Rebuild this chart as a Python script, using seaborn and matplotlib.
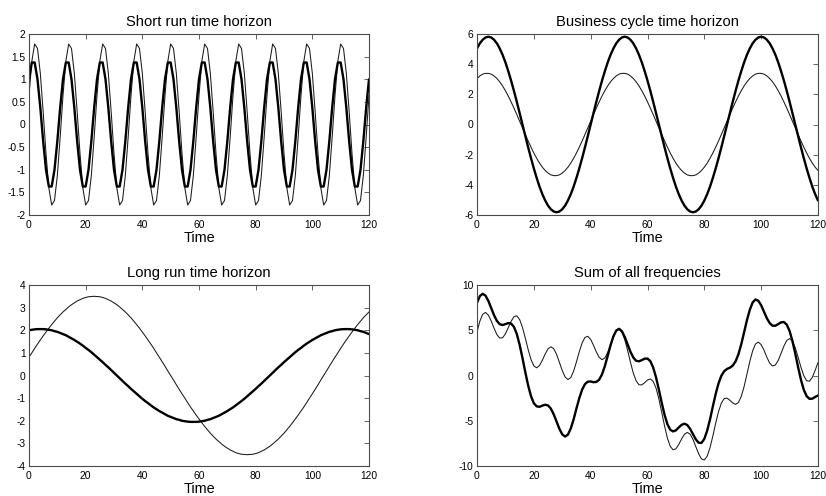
import matplotlib
matplotlib.use("Agg")
import matplotlib.pyplot as plt
from matplotlib.ticker import FuncFormatter
import numpy as np
import pandas as pd
import seaborn as sns

# ---------------- data ----------------
time = list(range(121))

short_thick = [
    1.00, 1.37, 1.37, 1.00, 0.37, -0.37, -1.00, -1.37, -1.37, -1.00, -0.37, 0.37,
    1.00, 1.37, 1.37, 1.00, 0.37, -0.37, -1.00, -1.37, -1.37, -1.00, -0.37, 0.37,
    1.00, 1.37, 1.37, 1.00, 0.37, -0.37, -1.00, -1.37, -1.37, -1.00, -0.37, 0.37,
    1.00, 1.37, 1.37, 1.00, 0.37, -0.37, -1.00, -1.37, -1.37, -1.00, -0.37, 0.37,
    1.00, 1.37, 1.37, 1.00, 0.37, -0.37, -1.00, -1.37, -1.37, -1.00, -0.37, 0.37,
    1.00, 1.37, 1.37, 1.00, 0.37, -0.37, -1.00, -1.37, -1.37, -1.00, -0.37, 0.37,
    1.00, 1.37, 1.37, 1.00, 0.37, -0.37, -1.00, -1.37, -1.37, -1.00, -0.37, 0.37,
    1.00, 1.37, 1.37, 1.00, 0.37, -0.37, -1.00, -1.37, -1.37, -1.00, -0.37, 0.37,
    1.00, 1.37, 1.37, 1.00, 0.37, -0.37, -1.00, -1.37, -1.37, -1.00, -0.37, 0.37,
    1.00, 1.37, 1.37, 1.00, 0.37, -0.37, -1.00, -1.37, -1.37, -1.00, -0.37, 0.37,
    1.00,
]

short_thin = [
    0.64, 1.40, 1.78, 1.68, 1.13, 0.28, -0.64, -1.40, -1.78, -1.68, -1.13, -0.28,
    0.64, 1.40, 1.78, 1.68, 1.13, 0.28, -0.64, -1.40, -1.78, -1.68, -1.13, -0.28,
    0.64, 1.40, 1.78, 1.68, 1.13, 0.28, -0.64, -1.40, -1.78, -1.68, -1.13, -0.28,
    0.64, 1.40, 1.78, 1.68, 1.13, 0.28, -0.64, -1.40, -1.78, -1.68, -1.13, -0.28,
    0.64, 1.40, 1.78, 1.68, 1.13, 0.28, -0.64, -1.40, -1.78, -1.68, -1.13, -0.28,
    0.64, 1.40, 1.78, 1.68, 1.13, 0.28, -0.64, -1.40, -1.78, -1.68, -1.13, -0.28,
    0.64, 1.40, 1.78, 1.68, 1.13, 0.28, -0.64, -1.40, -1.78, -1.68, -1.13, -0.28,
    0.64, 1.40, 1.78, 1.68, 1.13, 0.28, -0.64, -1.40, -1.78, -1.68, -1.13, -0.28,
    0.64, 1.40, 1.78, 1.68, 1.13, 0.28, -0.64, -1.40, -1.78, -1.68, -1.13, -0.28,
    0.64, 1.40, 1.78, 1.68, 1.13, 0.28, -0.64, -1.40, -1.78, -1.68, -1.13, -0.28,
    0.64,
]

business_thick = [
    5.04, 5.38, 5.62, 5.77, 5.82, 5.77, 5.62, 5.38, 5.04, 4.62, 4.12, 3.54,
    2.91, 2.23, 1.51, 0.76, 0.00, -0.76, -1.51, -2.23, -2.91, -3.54, -4.12, -4.62,
    -5.04, -5.38, -5.62, -5.77, -5.82, -5.77, -5.62, -5.38, -5.04, -4.62, -4.12, -3.54,
    -2.91, -2.23, -1.51, -0.76, 0.00, 0.76, 1.51, 2.23, 2.91, 3.54, 4.12, 4.62,
    5.04, 5.38, 5.62, 5.77, 5.82, 5.77, 5.62, 5.38, 5.04, 4.62, 4.12, 3.54,
    2.91, 2.23, 1.51, 0.76, 0.00, -0.76, -1.51, -2.23, -2.91, -3.54, -4.12, -4.62,
    -5.04, -5.38, -5.62, -5.77, -5.82, -5.77, -5.62, -5.38, -5.04, -4.62, -4.12, -3.54,
    -2.91, -2.23, -1.51, -0.76, 0.00, 0.76, 1.51, 2.23, 2.91, 3.54, 4.12, 4.62,
    5.04, 5.38, 5.62, 5.77, 5.82, 5.77, 5.62, 5.38, 5.04, 4.62, 4.12, 3.54,
    2.91, 2.23, 1.51, 0.76, 0.00, -0.76, -1.51, -2.23, -2.91, -3.54, -4.12, -4.62,
    -5.04,
]

business_thin = [
    3.05, 3.22, 3.34, 3.39, 3.39, 3.34, 3.22, 3.05, 2.83, 2.56, 2.24, 1.89,
    1.50, 1.09, 0.66, 0.22, -0.22, -0.66, -1.09, -1.50, -1.89, -2.24, -2.56, -2.83,
    -3.05, -3.22, -3.34, -3.39, -3.39, -3.34, -3.22, -3.05, -2.83, -2.56, -2.24, -1.89,
    -1.50, -1.09, -0.66, -0.22, 0.22, 0.66, 1.09, 1.50, 1.89, 2.24, 2.56, 2.83,
    3.05, 3.22, 3.34, 3.39, 3.39, 3.34, 3.22, 3.05, 2.83, 2.56, 2.24, 1.89,
    1.50, 1.09, 0.66, 0.22, -0.22, -0.66, -1.09, -1.50, -1.89, -2.24, -2.56, -2.83,
    -3.05, -3.22, -3.34, -3.39, -3.39, -3.34, -3.22, -3.05, -2.83, -2.56, -2.24, -1.89,
    -1.50, -1.09, -0.66, -0.22, 0.22, 0.66, 1.09, 1.50, 1.89, 2.24, 2.56, 2.83,
    3.05, 3.22, 3.34, 3.39, 3.39, 3.34, 3.22, 3.05, 2.83, 2.56, 2.24, 1.89,
    1.50, 1.09, 0.66, 0.22, -0.22, -0.66, -1.09, -1.50, -1.89, -2.24, -2.56, -2.83,
    -3.05,
]

long_thick = [
    2.00, 2.02, 2.04, 2.05, 2.05, 2.05, 2.04, 2.02, 2.00, 1.96,
    1.93, 1.88, 1.83, 1.78, 1.71, 1.64, 1.57, 1.49, 1.41, 1.32,
    1.22, 1.13, 1.03, 0.92, 0.81, 0.70, 0.59, 0.47, 0.36, 0.24,
    0.12, 0.00, -0.12, -0.24, -0.36, -0.47, -0.59, -0.70, -0.81, -0.92,
    -1.03, -1.13, -1.22, -1.32, -1.41, -1.49, -1.57, -1.64, -1.71, -1.78,
    -1.83, -1.88, -1.93, -1.96, -2.00, -2.02, -2.04, -2.05, -2.05, -2.05,
    -2.04, -2.02, -2.00, -1.96, -1.93, -1.88, -1.83, -1.78, -1.71, -1.64,
    -1.57, -1.49, -1.41, -1.32, -1.22, -1.13, -1.03, -0.92, -0.81, -0.70,
    -0.59, -0.47, -0.36, -0.24, -0.12, 0.00, 0.12, 0.24, 0.36, 0.47,
    0.59, 0.70, 0.81, 0.92, 1.03, 1.13, 1.22, 1.32, 1.41, 1.49,
    1.57, 1.64, 1.71, 1.78, 1.83, 1.88, 1.93, 1.96, 2.00, 2.02,
    2.04, 2.05, 2.05, 2.05, 2.04, 2.02, 2.00, 1.96, 1.93, 1.88,
    1.83,
]

long_thin = [
    0.81, 1.00, 1.20, 1.39, 1.57, 1.75, 1.92, 2.09, 2.25, 2.40,
    2.55, 2.68, 2.81, 2.92, 3.03, 3.13, 3.21, 3.29, 3.35, 3.41,
    3.45, 3.48, 3.49, 3.50, 3.49, 3.48, 3.45, 3.41, 3.35, 3.29,
    3.21, 3.13, 3.03, 2.92, 2.81, 2.68, 2.55, 2.40, 2.25, 2.09,
    1.92, 1.75, 1.57, 1.39, 1.20, 1.00, 0.81, 0.61, 0.41, 0.20,
    0.00, -0.20, -0.41, -0.61, -0.81, -1.00, -1.20, -1.39, -1.57, -1.75,
    -1.92, -2.09, -2.25, -2.40, -2.55, -2.68, -2.81, -2.92, -3.03, -3.13,
    -3.21, -3.29, -3.35, -3.41, -3.45, -3.48, -3.49, -3.50, -3.49, -3.48,
    -3.45, -3.41, -3.35, -3.29, -3.21, -3.13, -3.03, -2.92, -2.81, -2.68,
    -2.55, -2.40, -2.25, -2.09, -1.92, -1.75, -1.57, -1.39, -1.20, -1.00,
    -0.81, -0.61, -0.41, -0.20, 0.00, 0.20, 0.41, 0.61, 0.81, 1.00,
    1.20, 1.39, 1.57, 1.75, 1.92, 2.09, 2.25, 2.40, 2.55, 2.68,
    2.81,
]

sum_thin = [
    4.80, 6.00, 6.76, 6.97, 6.67, 6.02, 5.22, 4.52, 4.14, 4.17,
    4.60, 5.29, 5.99, 6.50, 6.60, 6.19, 5.32, 4.13, 2.87, 1.77,
    1.06, 0.85, 1.10, 1.69, 2.38, 2.95, 3.17, 2.96, 2.34, 1.45,
    0.55, -0.16, -0.45, -0.23, 0.48, 1.51, 2.63, 3.60, 4.21, 4.33,
    3.99, 3.34, 2.60, 2.00, 1.75, 1.94, 2.54, 3.38, 4.25, 4.90,
    5.12, 4.79, 3.96, 2.79, 1.47, 0.27, -0.59, -1.02, -1.04, -0.79,
    -0.50, -0.38, -0.65, -1.39, -2.58, -4.06, -5.58, -6.91, -7.83, -8.21,
    -8.10, -7.62, -7.01, -6.49, -6.29, -6.48, -7.05, -7.86, -8.65, -9.22,
    -9.34, -8.91, -7.97, -6.68, -5.27, -3.98, -3.04, -2.55, -2.50, -2.74,
    -3.04, -3.19, -2.98, -2.31, -1.21, 0.15, 1.54, 2.72, 3.48, 3.69,
    3.41, 2.79, 2.02, 1.37, 1.05, 1.16, 1.67, 2.44, 3.25, 3.87,
    4.08, 3.80, 3.06, 2.02, 0.91, -0.03, -0.58, -0.63, -0.20, 0.57,
    1.44,
]

titles = ["Short run time horizon", "Business cycle time horizon",
          "Long run time horizon", "Sum of all frequencies"]
x_ticks = [0, 20, 40, 60, 80, 100, 120]
short_yticks = [-2, -1.5, -1, -0.5, 0, 0.5, 1, 1.5, 2]
business_yticks = [-6, -4, -2, 0, 2, 4, 6]
long_yticks = [-4, -3, -2, -1, 0, 1, 2, 3, 4]
sum_yticks = [-10, -5, 0, 5, 10]

# the "sum" thick line is the sum of the three thick components
df = pd.DataFrame({
    "Time": time,
    "short_thick": short_thick, "short_thin": short_thin,
    "business_thick": business_thick, "business_thin": business_thin,
    "long_thick": long_thick, "long_thin": long_thin,
    "sum_thin": sum_thin,
})
df["sum_thick"] = df["short_thick"] + df["business_thick"] + df["long_thick"]

# ---------------- style ----------------
sns.set_theme(style="white")
plt.rcParams["font.family"] = ["Liberation Sans", "DejaVu Sans"]
plt.rcParams["axes.unicode_minus"] = False
plt.rcParams["axes.edgecolor"] = "#4a4a4a"
plt.rcParams["axes.linewidth"] = 0.8

fig = plt.figure(figsize=(8.26, 4.96), dpi=100)
W, H = 826.0, 496.0
boxes = [(29, 34, 369, 215), (477, 34, 818, 215),
         (29, 285, 369, 466), (477, 285, 818, 466)]
panels = [
    ("short_thick", "short_thin", short_yticks),
    ("business_thick", "business_thin", business_yticks),
    ("long_thick", "long_thin", long_yticks),
    ("sum_thick", "sum_thin", sum_yticks),
]

fmt = FuncFormatter(lambda v, p: "%g" % v)

for (l, t, r, b), title, (thick, thin, yt) in zip(boxes, titles, panels):
    ax = fig.add_axes([l / W, 1 - b / H, (r - l) / W, (b - t) / H])
    sns.lineplot(data=df, x="Time", y=thin, ax=ax, color="#1a1a1a",
                 linewidth=0.75, estimator=None, sort=False, legend=False)
    sns.lineplot(data=df, x="Time", y=thick, ax=ax, color="black",
                 linewidth=1.7, estimator=None, sort=False, legend=False)
    ax.set_xlim(0, 120)
    ax.set_ylim(yt[0], yt[-1])
    ax.set_xticks(x_ticks)
    ax.set_yticks(yt)
    ax.xaxis.set_major_formatter(fmt)
    ax.yaxis.set_major_formatter(fmt)
    ax.tick_params(direction="in", top=True, right=True, length=3.5,
                   width=0.6, color="#4a4a4a", labelsize=7.4, pad=2.5,
                   labelcolor="black")
    ax.tick_params(axis="x", pad=3.5)
    ax.set_ylabel("")
    ax.set_xlabel("Time", fontsize=10.4, labelpad=0.5, color="black")
    ax.set_title(title, fontsize=10.6, pad=6, color="black")
    for s in ax.spines.values():
        s.set_visible(True)
        s.set_color("#4a4a4a")
        s.set_linewidth(0.8)
    ax.grid(False)
    ax.set_facecolor("white")

fig.savefig("out.png", dpi=100, facecolor="white")
